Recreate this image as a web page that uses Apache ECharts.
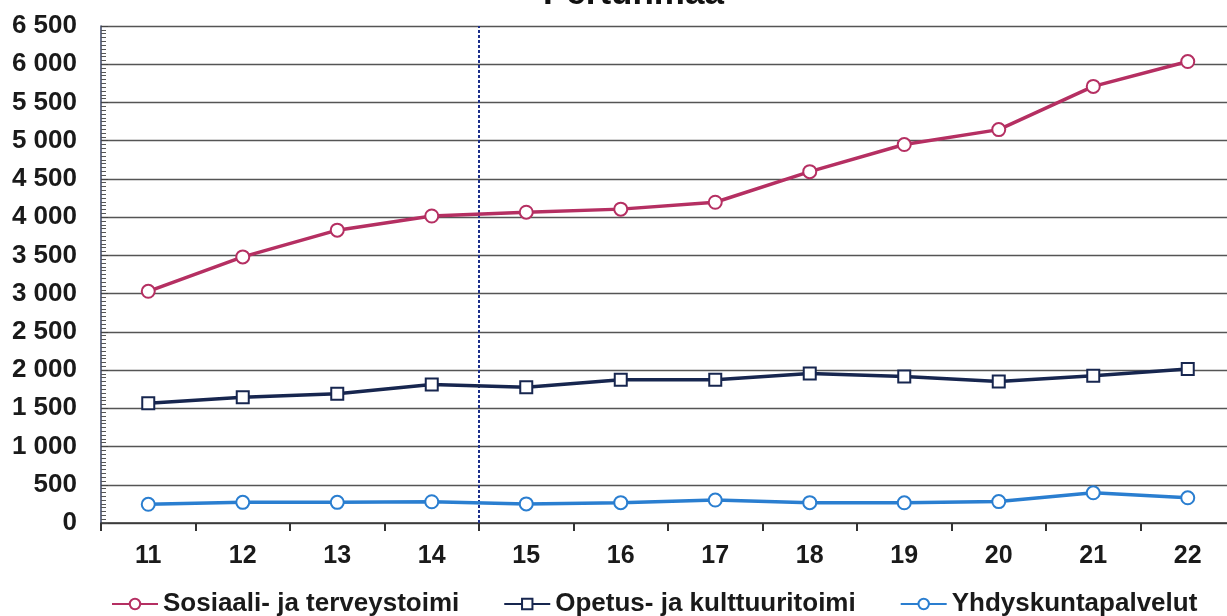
<!DOCTYPE html>
<html>
<head>
<meta charset="utf-8">
<script src="https://cdn.jsdelivr.net/npm/echarts@6/dist/echarts.min.js"></script>
<style>
  html, body { margin: 0; padding: 0; background: #fff; }
  #chart { width: 1227px; height: 616px; }
</style>
</head>
<body>
<div id="chart"></div>
<script>
var years = ['11', '12', '13', '14', '15', '16', '17', '18', '19', '20', '21', '22'];
var sosiaali = [3030, 3480, 3830, 4015, 4065, 4105, 4195, 4595, 4950, 5145, 5710, 6035];
var opetus = [1565, 1645, 1690, 1810, 1775, 1875, 1875, 1955, 1915, 1850, 1925, 2015];
var yhdyskunta = [245, 270, 270, 278, 250, 266, 300, 266, 264, 280, 395, 330];
var splitAt = 14.5; // vertical dashed divider between 14 and 15

var chart = echarts.init(document.getElementById('chart'));

// thousands with a space, like "6 500"
function fmt(v) {
    return String(v).replace(/\B(?=(\d{3})+(?!\d))/g, ' ');
}

var font = 'Liberation Sans, Arial, sans-serif';

chart.setOption({
    animation: false,
    title: {
        text: 'Pertunmaa',
        left: 538,
        top: -28,
        textStyle: { fontFamily: font, fontSize: 35, fontWeight: 'bold', color: '#111' }
    },
    // plot runs a little past the right edge, as in the original
    grid: { left: 101, width: 1134, top: 26, bottom: 93, outerBoundsMode: 'none' },
    legend: {
        top: 586,
        left: 106,
        itemGap: 44,
        itemWidth: 46,
        itemHeight: 13,
        textStyle: { fontFamily: font, fontSize: 26, fontWeight: 'bold', color: '#1a1a1a' },
        data: ['Sosiaali- ja terveystoimi', 'Opetus- ja kulttuuritoimi', 'Yhdyskuntapalvelut']
    },
    xAxis: [{
        type: 'category',
        data: years,
        boundaryGap: true,
        axisLine: { lineStyle: { color: '#333', width: 1.5 } },
        axisTick: { show: true, length: 8, lineStyle: { color: '#333', width: 2 } },
        axisLabel: { fontFamily: font, fontSize: 25, fontWeight: 'bold', color: '#1a1a1a', margin: 21 }
    }, {
        type: 'value',
        min: 10.5,
        max: 22.5,
        show: false
    }],
    yAxis: {
        type: 'value',
        min: 0,
        max: 6500,
        interval: 500,
        axisLine: { show: true, lineStyle: { color: '#3a4466', width: 1.5 } },
        axisTick: { show: true, inside: true, length: 7, lineStyle: { color: '#444' } },
        minorTick: { show: true, splitNumber: 10, length: 5, lineStyle: { color: '#555' } },
        axisLabel: {
            fontFamily: font, fontSize: 26, fontWeight: 'bold', color: '#1a1a1a', margin: 24,
            formatter: fmt
        },
        splitLine: { lineStyle: { color: '#555', width: 1.3 } }
    },
    series: [{
        name: 'Sosiaali- ja terveystoimi',
        type: 'line',
        data: sosiaali,
        symbol: 'circle',
        symbolSize: 13,
        lineStyle: { color: '#b52f62', width: 3.5 },
        itemStyle: { color: '#fff', borderColor: '#b52f62', borderWidth: 2 },
        z: 5
    }, {
        name: 'Opetus- ja kulttuuritoimi',
        type: 'line',
        data: opetus,
        symbol: 'rect',
        symbolSize: 12,
        lineStyle: { color: '#17264f', width: 3.5 },
        itemStyle: { color: '#fff', borderColor: '#17264f', borderWidth: 2 },
        z: 5
    }, {
        name: 'Yhdyskuntapalvelut',
        type: 'line',
        data: yhdyskunta,
        symbol: 'circle',
        symbolSize: 13,
        lineStyle: { color: '#2a7ed0', width: 3.5 },
        itemStyle: { color: '#fff', borderColor: '#2a7ed0', borderWidth: 2 },
        z: 5
    }, {
        name: 'divider',
        type: 'line',
        xAxisIndex: 1,
        data: [],
        markLine: {
            silent: true,
            symbol: 'none',
            label: { show: false },
            lineStyle: { color: '#1c2f8a', type: [3, 2], width: 2 },
            data: [{ xAxis: splitAt }]
        }
    }]
});
</script>
</body>
</html>
